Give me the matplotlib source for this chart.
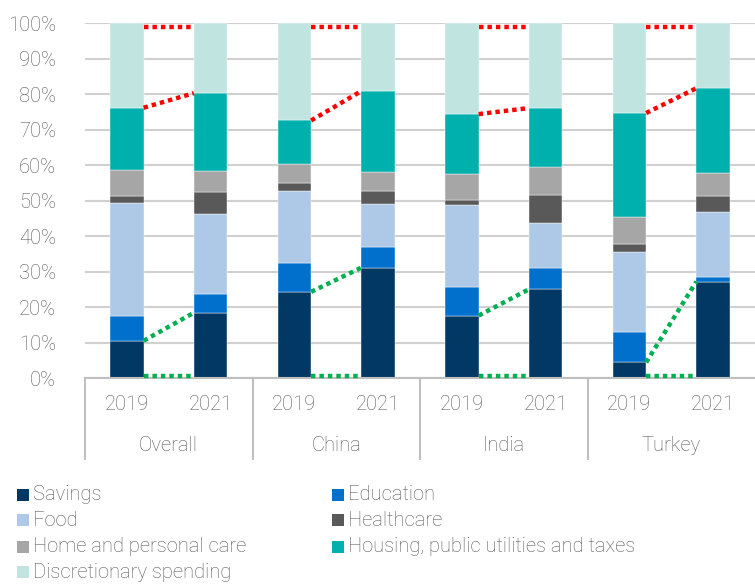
import matplotlib
matplotlib.use("Agg")
import matplotlib.pyplot as plt
from matplotlib.patches import Rectangle
from matplotlib.lines import Line2D
import numpy as np

plt.rcParams['font.family'] = ['Roboto', 'DejaVu Sans']
plt.rcParams['font.weight'] = 'light'

groups = ["Overall", "China", "India", "Turkey"]
years = ["2019", "2021"]

series_names = ["Savings", "Education", "Food", "Healthcare",
                "Home and personal care", "Housing, public utilities and taxes",
                "Discretionary spending"]
colors = ["#023864", "#0070CC", "#AEC8E8", "#595959", "#A6A6A6", "#00B0AC", "#C0E5E1"]

# shares in percent, order: Overall 2019, Overall 2021, China 2019, China 2021, India ..., Turkey ...
savings       = [10.5, 18.4, 24.3, 31.1, 17.6, 25.0, 4.4, 27.2]
education     = [7.0, 5.3, 8.0, 5.7, 8.1, 6.0, 8.7, 1.3]
food          = [31.8, 22.4, 20.3, 12.2, 23.1, 12.6, 22.4, 18.2]
healthcare    = [2.1, 6.3, 2.4, 3.7, 1.3, 8.0, 2.3, 4.7]
home_care     = [7.2, 6.0, 5.3, 5.3, 7.5, 8.0, 7.6, 6.4]
housing       = [17.6, 21.9, 12.3, 22.9, 16.8, 16.5, 29.3, 23.9]
discretionary = [23.8, 19.7, 27.4, 19.1, 25.6, 23.9, 25.3, 18.3]

top_marker = 99.0   # dotted red guide near the top
base_marker = 0.5   # dotted green guide at the base

data = [savings, education, food, healthcare, home_care, housing, discretionary]

W, H = 755, 585
fs = 14.5
fig = plt.figure(figsize=(W / 100, H / 100), dpi=100)
ax_left, ax_right = 85 / W, 755 / W
ax_bottom, ax_top = 1 - 378 / H, 1 - 23.3 / H
ax = fig.add_axes([ax_left, ax_bottom, ax_right - ax_left, ax_top - ax_bottom])

x = np.arange(len(savings))
bw = 0.4
bottom = np.zeros(len(x))
cum = []
for vals, col in zip(data, colors):
    v = np.array(vals, dtype=float)
    ax.bar(x, v, bw, bottom=bottom, color=col, edgecolor="white", linewidth=0.3, zorder=2)
    bottom = bottom + v
    cum.append(bottom.copy())

savings_top = cum[0]
housing_top = cum[5]

dot = dict(linewidth=3.2, linestyle=(0, (1, 0.9)), dash_capstyle="butt", zorder=3, clip_on=False)
for g in range(len(groups)):
    i0, i1 = 2 * g, 2 * g + 1
    xa, xb = x[i0] + bw / 2, x[i1] - bw / 2
    ax.plot([xa, xb], [savings_top[i0], savings_top[i1]], color="#00B050", **dot)
    ax.plot([xa, xb], [base_marker, base_marker], color="#00B050", **dot)
    ax.plot([xa, xb], [housing_top[i0], housing_top[i1]], color="#FF0000", **dot)
    ax.plot([xa, xb], [top_marker, top_marker], color="#FF0000", **dot)

ax.set_xlim(-0.5, len(x) - 0.5)
ax.set_ylim(0, 100)
ax.set_yticks(np.arange(0, 101, 10))
ax.set_yticklabels([f"{t}%" for t in range(0, 101, 10)])
ax.yaxis.grid(True, color="#D0D0D0", linewidth=1.5, zorder=0)
ax.set_axisbelow(True)
ax.tick_params(axis="y", length=0, pad=21, labelsize=fs, labelcolor="#595959")
ax.set_xticks([])
for s in ["left", "right", "top"]:
    ax.spines[s].set_visible(False)
ax.spines["bottom"].set_color("#BFBFBF")
ax.spines["bottom"].set_linewidth(1.5)

text_col = "#595959"
axis_h_px = 378 - 23.3
y_year = -(405 - 378) / axis_h_px
y_group = -(445 - 378) / axis_h_px
y_div = -(459 - 378) / axis_h_px
trans = ax.get_xaxis_transform()
for i in x:
    ax.text(i, y_year, years[i % 2], transform=trans, ha="center", va="center",
            fontsize=fs, color=text_col)
for g, name in enumerate(groups):
    ax.text(2 * g + 0.5, y_group, name, transform=trans, ha="center", va="center",
            fontsize=fs, color=text_col)
for g in range(len(groups)):
    ax.add_line(Line2D([2 * g - 0.5, 2 * g - 0.5], [0, y_div], transform=trans,
                       color="#BFBFBF", linewidth=1.5, clip_on=False))

# legend laid out in two columns
legend_rows_y = [495, 520, 547, 572]
col_x = [17, 332]
layout = [(0, 0), (1, 0), (0, 1), (1, 1), (0, 2), (1, 2), (0, 3)]
sq = 12
for (c, r), name, col in zip(layout, series_names, colors):
    px, py = col_x[c], legend_rows_y[r]
    fig.patches.append(Rectangle((px / W, 1 - (py + sq / 2) / H), sq / W, sq / H,
                                 transform=fig.transFigure, facecolor=col, edgecolor="none"))
    fig.text((px + sq + 4) / W, 1 - py / H, name, ha="left", va="center",
             fontsize=fs, color=text_col)

fig.savefig("out.png", dpi=100)
